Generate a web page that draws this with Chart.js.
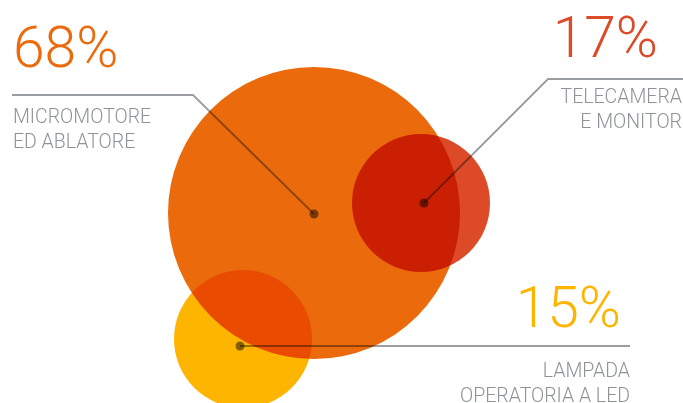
<!DOCTYPE html>
<html>
<head>
<meta charset="utf-8">
<script src="https://cdn.jsdelivr.net/npm/chart.js@4.4.1/dist/chart.umd.min.js"></script>
<style>
  html, body { margin: 0; padding: 0; background: #fff; }
  #wrap { width: 683px; height: 403px; }
</style>
</head>
<body>
<div id="wrap"><canvas id="bubbleChart" width="683" height="403"></canvas></div>
<script>
// Data
const categories = ['MICROMOTORE\nED ABLATORE', 'TELECAMERA\nE MONITOR', 'LAMPADA\nOPERATORIA A LED'];
const shares = [68, 17, 15];
const posX = [314, 421, 243];
const posY = [213, 203, 339];
const colors = ['#EB6A0C', '#DC4A28', '#FDB500'];

// Bubble sizes (px) and callout layout (text + leader line)
const bubbleRadius = [146, 69, 69];
const callouts = [
  { align: 'left',  numX: 13,  numY: 67,  textX: 13,  textY: [123, 148], dot: [0, 1],  line: [[12, 95], [193, 95]] },
  { align: 'right', numX: 658, numY: 57,  textX: 682, textY: [103, 128], dot: [3, 0],  line: [[683, 79], [548, 79]] },
  { align: 'right', numX: 621, numY: 327, textX: 630, textY: [377, 402], dot: [-3, 7], line: [[630, 346]] }
];

// Multiply blend for the bubbles
const blendPlugin = {
  id: 'blend',
  beforeDatasetsDraw(chart) {
    chart.ctx.save();
    chart.ctx.globalCompositeOperation = 'multiply';
  },
  afterDatasetsDraw(chart) {
    chart.ctx.restore();
  }
};

// Labels, leader lines and dots
const calloutPlugin = {
  id: 'callouts',
  afterDraw(chart) {
    const ctx = chart.ctx;
    const xs = chart.scales.x;
    const ys = chart.scales.y;
    ctx.save();
    callouts.forEach((c, i) => {
      const cx = xs.getPixelForValue(posX[i]) + c.dot[0];
      const cy = ys.getPixelForValue(posY[i]) + c.dot[1];

      // leader line
      ctx.globalCompositeOperation = 'multiply';
      ctx.strokeStyle = '#9a9ea3';
      ctx.lineWidth = 1.8;
      ctx.beginPath();
      ctx.moveTo(c.line[0][0], c.line[0][1]);
      c.line.slice(1).forEach(p => ctx.lineTo(p[0], p[1]));
      ctx.lineTo(cx, cy);
      ctx.stroke();

      // dot
      ctx.fillStyle = '#858585';
      ctx.beginPath();
      ctx.arc(cx, cy, 4.5, 0, Math.PI * 2);
      ctx.fill();

      // text
      ctx.globalCompositeOperation = 'source-over';
      ctx.textAlign = c.align;
      ctx.textBaseline = 'alphabetic';
      ctx.fillStyle = colors[i];
      ctx.font = '300 57px Roboto';
      ctx.fillText(shares[i] + '%', c.numX, c.numY);

      ctx.fillStyle = '#8f9399';
      ctx.font = '300 19.5px Roboto';
      categories[i].split('\n').forEach((t, k) => {
        ctx.fillText(t, c.textX, c.textY[k]);
      });
    });
    ctx.restore();
  }
};

const ctx = document.getElementById('bubbleChart').getContext('2d');
new Chart(ctx, {
  type: 'bubble',
  data: {
    datasets: [{
      data: shares.map((v, i) => ({ x: posX[i], y: posY[i], v: v })),
      backgroundColor: colors,
      borderWidth: 0,
      clip: false,
      radius: c => bubbleRadius[c.dataIndex]
    }]
  },
  options: {
    responsive: false,
    animation: false,
    events: [],
    layout: { padding: 0, autoPadding: false },
    plugins: { legend: { display: false }, tooltip: { enabled: false } },
    scales: {
      x: { type: 'linear', display: false, min: 0, max: 683 },
      y: { type: 'linear', display: false, min: 0, max: 403, reverse: true }
    }
  },
  plugins: [blendPlugin, calloutPlugin]
});
</script>
</body>
</html>
